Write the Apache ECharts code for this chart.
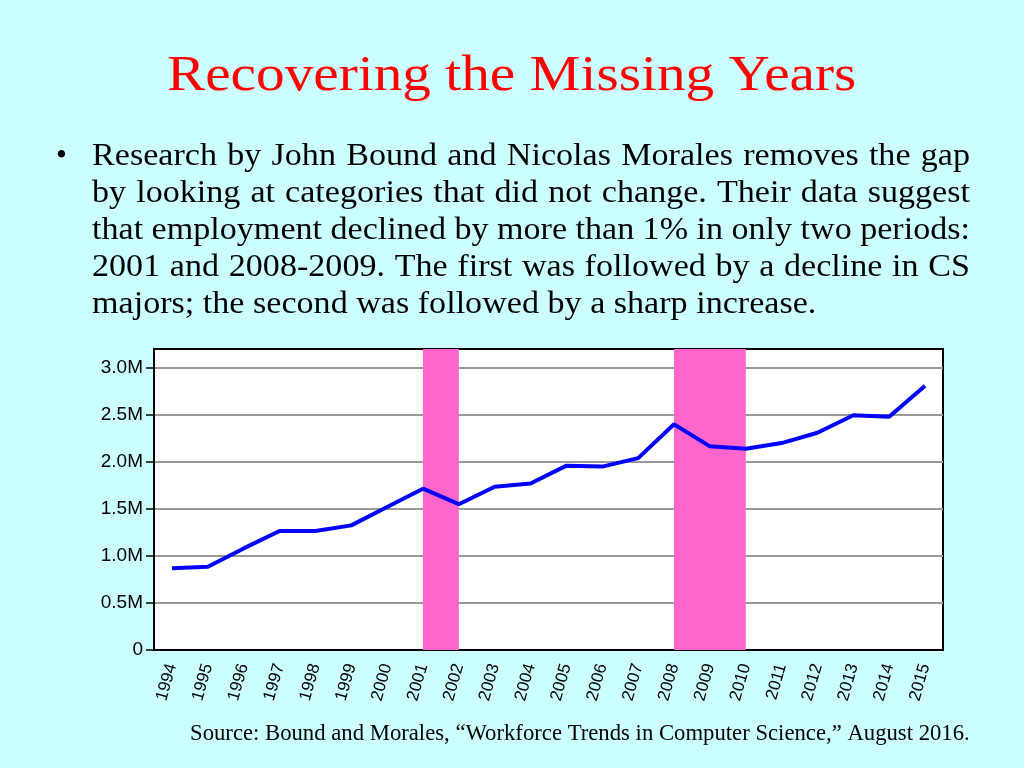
<!DOCTYPE html>
<html lang="en">
<head>
    <meta charset="UTF-8">
    <title>Recovering the Missing Years</title>
    <script src="https://cdn.jsdelivr.net/npm/echarts@6/dist/echarts.min.js"></script>
    <style>
        html, body { margin: 0; padding: 0; background: #ccffff; }
    </style>
</head>
<body>
<div id="echarts" style="width: 1024px;height:768px"></div>
<script>
    var chartDom = document.getElementById('echarts');
    var myChart = echarts.init(chartDom);

    var years = ['1994', '1995', '1996', '1997', '1998', '1999', '2000', '2001', '2002', '2003', '2004',
        '2005', '2006', '2007', '2008', '2009', '2010', '2011', '2012', '2013', '2014', '2015'];
    // employment, millions
    var employment = [0.87, 0.885, 1.08, 1.265, 1.265, 1.325, 1.52, 1.715, 1.55, 1.735, 1.77,
        1.96, 1.95, 2.04, 2.40, 2.165, 2.14, 2.20, 2.31, 2.495, 2.48, 2.81];
    var yTicks = [0, 0.5, 1.0, 1.5, 2.0, 2.5, 3.0];
    var declines = [['2001', '2002'], ['2008', '2010']];
    var bulletLines = [
        'Research by John Bound and Nicolas Morales removes the gap',
        'by looking at categories that did not change. Their data suggest',
        'that employment declined by more than 1% in only two periods:',
        '2001 and 2008-2009. The first was followed by a decline in CS',
        'majors; the second was followed by a sharp increase.'
    ];
    var source = 'Source: Bound and Morales, \u201cWorkforce Trends in Computer Science,\u201d August 2016.';

    var serif = '"Liberation Serif", "Times New Roman", serif';
    var sans = '"Liberation Sans", Arial, sans-serif';

    // measure words so the bullet text can be justified like the slide
    var ctx = document.createElement('canvas').getContext('2d');
    var bodyFont = '31px ' + serif;
    ctx.font = bodyFont;
    var bodyScale = 1.1;
    var textLeft = 92, textRight = 970;

    var texts = [];
    texts.push({
        type: 'text', x: 167, y: 51, scaleX: 1.123,
        style: { text: 'Recovering the Missing Years', font: '51px ' + serif, fill: '#ff0000', verticalAlign: 'top' }
    });
    texts.push({
        type: 'text', x: 56, y: 141,
        style: { text: '\u2022', font: bodyFont, fill: '#000', verticalAlign: 'top' }
    });
    bulletLines.forEach(function (line, i) {
        var words = line.split(' ');
        var widths = words.map(function (w) { return ctx.measureText(w).width * bodyScale; });
        var total = widths.reduce(function (a, b) { return a + b; }, 0);
        var last = i === bulletLines.length - 1;
        var gap = last ? ctx.measureText(' ').width * bodyScale
            : (textRight - textLeft - total) / (words.length - 1);
        var x = textLeft;
        words.forEach(function (w, j) {
            texts.push({
                type: 'text', x: x, y: 141 + i * 37, scaleX: bodyScale,
                style: { text: w, font: bodyFont, fill: '#000', verticalAlign: 'top' }
            });
            x += widths[j] + gap;
        });
    });
    texts.push({
        type: 'text', x: 190, y: 722, scaleX: 0.987,
        style: { text: source, font: '23px ' + serif, fill: '#000', verticalAlign: 'top' }
    });

    var option = {
        backgroundColor: '#ccffff',
        graphic: texts,
        grid: {
            show: true,
            left: 154,
            top: 349,
            width: 789,
            height: 301,
            backgroundColor: '#ffffff',
            borderColor: '#000',
            borderWidth: 2
        },
        xAxis: {
            type: 'category',
            data: years,
            axisLine: { lineStyle: { color: '#000', width: 2 } },
            axisTick: { alignWithLabel: true, length: 8, lineStyle: { color: '#000', width: 1.5 } },
            axisLabel: {
                rotate: 74,
                interval: 0,
                fontFamily: sans,
                fontSize: 17,
                color: '#000',
                margin: 14
            }
        },
        yAxis: {
            type: 'value',
            min: 0,
            max: 3.2,
            interval: 0.5,
            axisLine: { show: true, lineStyle: { color: '#000', width: 2 } },
            axisTick: { show: true, length: 8, customValues: yTicks, lineStyle: { color: '#000', width: 1.5 } },
            splitLine: { lineStyle: { color: '#999', width: 2 } },
            axisLabel: {
                customValues: yTicks,
                fontFamily: sans,
                fontSize: 19,
                color: '#000',
                margin: 11,
                formatter: function (v) {
                    return v === 0 ? '0' : v.toFixed(1) + 'M';
                }
            }
        },
        series: [{
            name: 'Employment',
            type: 'line',
            data: employment,
            symbol: 'none',
            lineStyle: { color: '#0000ff', width: 4 },
            z: 5,
            markArea: {
                silent: true,
                itemStyle: { color: '#ff66cc', opacity: 1 },
                data: declines.map(function (d) {
                    return [{ xAxis: d[0] }, { xAxis: d[1] }];
                })
            }
        }]
    };

    option && myChart.setOption(option);
</script>
</body>
</html>
